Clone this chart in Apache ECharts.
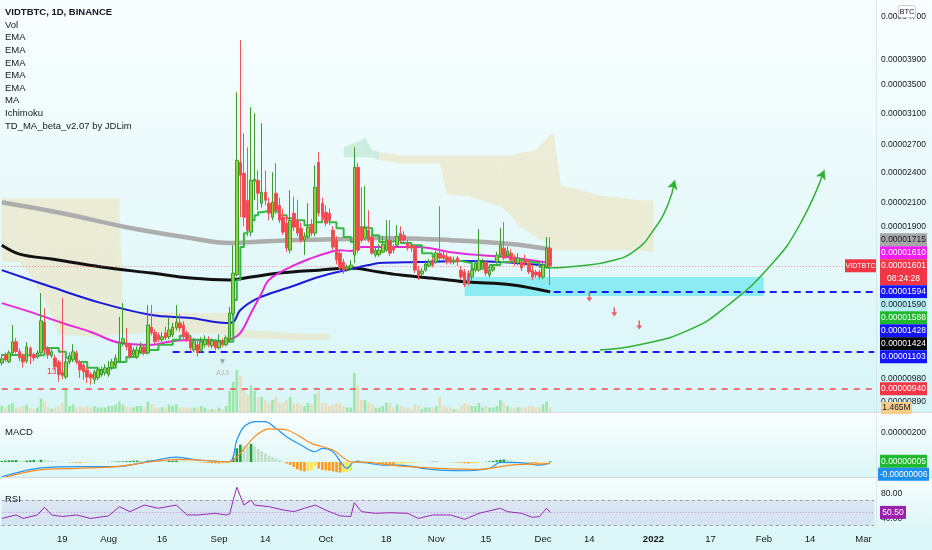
<!DOCTYPE html>
<html>
<head>
<meta charset="utf-8">
<script src="https://cdn.jsdelivr.net/npm/echarts@6.0.0/dist/echarts.min.js"></script>
<style>
html,body{margin:0;padding:0;background:#ffffff;}
#chart{width:932px;height:550px;}
</style>
</head>
<body>
<div id="chart"></div>
<script>
// ================= DATA =================
const firstDay = Date.UTC(2021, 6, 2);   // 2021-07-02, first daily bar
const dayCount = 246;                    // bars + empty future space up to 2022-03-04
const tickDates = ['2021-07-19','2021-08-01','2021-08-16','2021-09-01','2021-09-14','2021-10-01','2021-10-18','2021-11-01','2021-11-15','2021-12-01','2021-12-14','2022-01-01','2022-01-17','2022-02-01','2022-02-14','2022-03-01'];
const tickTexts = ['19','Aug','16','Sep','14','Oct','18','Nov','15','Dec','14','2022','17','Feb','14','Mar'];

// prices in satoshi (1e-8 BTC)
const openP = [1051,1088,1056,1098,1152,1105,1080,1060,1120,1090,
1079,1098,1255,1120,1084,1074,1056,1010,989,1056,
1065,1098,1056,1042,1020,1000,977,985,998,1007,
1000,1029,1042,1056,1147,1147,1137,1088,1079,1103,
1127,1098,1228,1200,1187,1162,1197,1177,1187,1223,
1250,1239,1197,1162,1112,1137,1112,1137,1162,1132,
1152,1122,1157,1137,1162,1300,1540,2506,2390,2126,
1852,2308,2318,2099,2201,2099,1976,2192,2081,1976,
1925,1713,2010,1950,1884,1789,1813,1917,1844,2506,
2099,2019,2010,1868,1789,1691,1627,1578,1585,1677,
2453,1892,1805,1868,1813,1677,1680,1698,1713,1789,
1736,1750,1844,1828,1767,1750,1728,1571,1545,1571,
1599,1641,1627,1691,1677,1663,1655,1627,1655,1571,
1558,1551,1525,1571,1571,1592,1627,1538,1571,1627,
1677,1728,1670,1691,1655,1620,1627,1641,1620,1571,
1558,1558,1525,1592,1728];
const closeP = [1070,1065,1098,1152,1105,1074,1056,1127,1084,1074,
1098,1261,1112,1088,1103,1033,1000,995,1056,1084,
1103,1056,1020,1011,989,985,1011,1020,1020,1029,
1029,1056,1074,1147,1167,1127,1079,1112,1112,1127,
1098,1239,1197,1152,1162,1177,1172,1213,1228,1255,
1223,1177,1162,1122,1152,1098,1152,1162,1137,1157,
1122,1152,1137,1172,1305,1551,2528,2369,1976,1868,
2318,2328,2192,2201,2126,2010,2108,2036,1950,1852,
1728,1950,1892,1844,1789,1820,1892,1844,2249,2010,
1976,1925,1950,1736,1641,1585,1571,1592,1606,2453,
1713,1789,1884,1789,1691,1713,1713,1757,1789,1691,
1713,1820,1789,1789,1728,1728,1571,1538,1565,1613,
1627,1606,1691,1655,1655,1627,1627,1641,1627,1525,
1473,1486,1571,1620,1641,1627,1551,1571,1592,1677,
1750,1655,1706,1641,1620,1655,1585,1620,1558,1525,
1538,1525,1606,1728,1601];
const lowP = [1040,1056,1050,1090,1095,1060,1030,1050,1045,1060,
1070,1090,1100,1070,1075,1020,969,980,980,1045,
1055,1045,985,977,964,956,960,975,990,995,
990,1020,1035,1050,1130,1110,1070,1080,1070,1095,
1085,1090,1185,1140,1150,1150,1160,1165,1175,1210,
1205,1165,1150,1105,1100,1080,1100,1125,1125,1120,
1110,1115,1125,1130,1155,1290,1530,1976,1900,1820,
1820,2126,2036,2060,2080,1950,1950,2000,1925,1830,
1700,1690,1860,1820,1770,1677,1800,1820,1820,1980,
1950,1900,1910,1710,1610,1560,1545,1560,1570,1620,
1690,1770,1790,1770,1680,1660,1665,1690,1700,1670,
1690,1740,1770,1770,1710,1700,1550,1505,1530,1560,
1590,1590,1615,1640,1640,1610,1610,1610,1600,1505,
1460,1470,1505,1555,1560,1580,1530,1525,1560,1615,
1660,1640,1655,1625,1600,1605,1565,1600,1545,1505,
1520,1510,1510,1580,1473];
const highP = [1090,1100,1110,1239,1170,1120,1095,1150,1130,1100,
1110,1423,1334,1130,1115,1090,1065,1392,1070,1100,
1140,1110,1065,1050,1030,1010,1020,1030,1035,1045,
1060,1070,1090,1283,1362,1223,1150,1125,1130,1150,
1140,1351,1351,1215,1200,1200,1230,1283,1250,1351,
1300,1260,1210,1175,1170,1160,1175,1185,1180,1170,
1165,1190,1170,1185,1340,1750,3392,4254,2842,2674,
3181,3099,2420,2967,2420,2150,2400,2496,2150,2050,
1990,2220,2160,2130,1930,1850,2100,1960,2474,2617,
2150,2080,2050,1900,1820,1710,1650,1610,1640,2674,
2500,2249,2259,2036,1840,1740,1760,1820,1950,1950,
1760,1908,1900,1860,1790,1770,1750,1600,1585,1640,
1650,1660,1710,2072,1700,1690,1670,1665,1670,1600,
1580,1570,1590,1640,1876,1650,1640,1590,1610,1700,
1884,1934,1740,1720,1680,1690,1650,1680,1640,1600,
1575,1575,1620,1813,1813];
// volume in millions
const volumeM = [2,1.5,2.5,3,1.5,1.5,2,2.5,1.5,1,
1.5,4.5,3.5,1.5,1,1.5,2,3,7.5,2,
2.5,1.5,2,1.5,2,1.5,2,1.5,1.5,1.5,
2,2,2.5,3.5,2.5,2,1.5,1.5,2,2,
1.5,3.5,2.5,1.5,1.5,1.5,1.5,2.5,2,2.5,
1.5,1.5,1.5,1.5,1.5,1.5,2,1.5,1,1,
1,1.5,1,2,7,10,14,12,8,6,
9,7,5,5,4,3,4,5,3,3,
4,5,3,3,2.5,2,3,2.5,6,7,
3,3,2,2.5,3,3,2,1.5,1.5,13,
9,4,4,3,2.5,1.5,1.5,2,3,3,
1.5,2.5,2,1.5,1.5,1,2.5,2,1,1.5,
1.5,1.5,2,5,2,1.5,1.5,1,1,2,
3,2.5,2,2,3,1.5,2,1.5,1.5,2,
4,3,2,1.5,1.5,1.5,1.5,1.5,2,2,
1.5,1.5,2.5,3.5,1.465];

// moving averages, read at sample bars: [barIndex, price]
const maGray = [[0,2108],[17,2010],[35,1892],[53,1805],[64,1767],[70,1774],[81,1789],[98,1797],[106,1805],[126,1789],[143,1760],[154,1720]];
const emaBlack = [[0,1750],[5,1684],[14,1648],[28,1592],[42,1551],[53,1518],[64,1505],[70,1525],[78,1551],[89,1571],[98,1585],[106,1558],[112,1538],[123,1512],[131,1492],[143,1475],[154,1430]];
const emaBlue = [[0,1571],[14,1460],[28,1362],[42,1294],[53,1277],[63,1250],[65,1255],[67,1322],[72,1392],[81,1460],[89,1525],[98,1578],[103,1606],[106,1620],[117,1627],[129,1634],[140,1627],[154,1600]];
const emaMagenta = [[0,1362],[8,1311],[17,1250],[25,1202],[33,1147],[42,1137],[47,1152],[53,1162],[60,1152],[64,1162],[67,1197],[70,1305],[73,1423],[75,1505],[81,1592],[87,1655],[92,1698],[95,1713],[98,1706],[101,1736],[106,1736],[117,1736],[126,1698],[134,1677],[143,1660],[154,1620]];
const tdMaGreen = [[0,1088],[5,1084],[10,1088],[12,1122],[16,1103],[18,1074],[21,1056],[24,1029],[27,1020],[30,1029],[32,1056],[35,1079],[38,1098],[41,1112],[44,1137],[48,1162],[50,1182],[53,1162],[58,1152],[63,1152],[65,1380],[66,1505],[67,1736],[68,1844],[69,1908],[70,1950],[71,1993],[72,2019],[73,2036],[76,2019],[78,1993],[80,1967],[82,1950],[85,1908],[88,1934],[90,1967],[92,1934],[94,1884],[96,1813],[98,1774],[99,1736],[100,1892],[102,1884],[104,1828],[106,1774],[109,1789],[112,1767],[115,1750],[118,1691],[121,1663],[123,1655],[126,1634],[129,1620],[132,1578],[134,1585],[137,1606],[140,1627],[143,1641],[146,1627],[149,1620],[151,1592],[154,1588]];

// Ichimoku cloud samples: bar index, upper span, lower span, bullish flag
const cloudIdx    = [0,5,8,12,16,28,33,34,42,52,64,67,84,92,   96,101,102,104,106,112,123,125,131,140,143,145,150,154,155,157,168,179,183];
const cloudTop    = [2144,2144,2144,2144,2144,2144,2144,1322,1311,1305,1305,1213,1192,1192, 2675,2757,2793,2640,2617,2584,2584,2584,2584,2584,2584,2606,2640,2820,2842,2269,2173,2126,2126];
const cloudBottom = [1627,1627,1538,1380,1187,1177,1192,1192,1197,1197,1187,1172,1162,1162, 2562,2562,2562,2562,2528,2496,2496,2183,2164,2072,1993,1908,1813,1750,1713,1713,1713,1713,1698];
const cloudBull   = [0,0,0,0,0,0,0,0,0,0,0,0,0,0, 1,1,1,1,0,0,0,0,0,0,0,0,0,0,0,0,0,0,0];
const cloudBreakAfter = [13];

// TD sequential marks: [barIndex, price, text, colour]
const tdMarks = [[14, 1011, '13', '#f23645'], [62, 1056, '\u25BC', '#9aa0a8'], [62, 1007, 'A13', '#b0b6bd']];

// drawings
const supportZone = {from: 130, to: 214, top: 1525, bottom: 1404};
const levelLines = [
  {value: 1103, from: 48, color: '#1a1aff', width: 2, dash: [7,5]},
  {value: 1428, from: 155, color: '#1a1aff', width: 2, dash: [7,5]},
  {value: 940, from: 0, color: '#ef4a50', width: 1.5, dash: [6,6]}
];
const arrowUp1 = [[153,1585],[162,1599],[171,1634],[178,1713],[183,1868],[187,2081],[189,2318]];
const arrowUp2 = [[168,1112],[179,1137],[193,1213],[204,1351],[216,1606],[224,1908],[231,2421]];
const downArrows = [[165,1398],[172,1311],[179,1239]];

// MACD (satoshi)
const macdLine = [[0,-101],[10,-43],[21,-32],[32,-32],[42,7],[49,34],[55,14],[64,2],[66,152],[68,243],[71,278],[74,278],[77,232],[80,175],[84,117],[88,71],[90,94],[93,71],[97,-43],[99,2],[102,-5],[107,-21],[112,-21],[118,-43],[123,-55],[131,-60],[137,-43],[140,-2],[146,-5],[151,-21],[154,-6]];
const macdSignal = [[0,-110],[10,-55],[21,-43],[32,-32],[42,2],[49,19],[55,14],[64,2],[67,62],[71,175],[75,228],[80,221],[87,129],[93,83],[98,2],[103,-2],[112,-28],[123,-43],[134,-50],[143,-21],[154,-11]];
const macdHist = [8,10,12,12,14,10,8,10,12,14,12,
16,14,10,8,6,4,2,0,-2,-4,
-5,-6,-5,-4,-3,-2,-2,-1,0,1,
2,3,4,5,6,8,9,10,9,8,
10,11,10,9,8,7,8,9,10,8,
6,4,2,0,-2,-4,-6,-7,-8,-9,
-10,-10,-9,-6,30,
95,120,110,105,125,110,90,75,60,45,
35,25,15,5,-10,-20,-35,-50,-60,-65,
-60,-55,-30,-45,-55,-58,-60,-65,-70,-72,
-70,-65,-60,-5,10,
8,6,4,2,0,-5,-8,-12,-15,-18,
-15,-12,-10,-8,-6,-4,-3,-2,-1,1,
2,3,2,1,0,-1,-2,-4,-6,-8,
-10,-10,-8,-6,-3,2,5,8,12,16,
18,16,12,8,4,1,-2,-4,-6,-8,
-8,-6,-2,5];

// RSI
const rsiLine = [[0,41],[4,46.5],[6,41],[10,46.5],[12,58.5],[14,46.5],[17,44],[21,46.5],[25,41],[30,45],[33,59.5],[36,51.7],[40,62],[44,57],[49,62],[52,46.5],[55,46.5],[60,49],[63,46.5],[64,48],[65,70],[66,90],[68,62],[70,70],[71,62],[75,59.5],[79,54.3],[82,51.7],[85,57],[88,62],[91,54],[95,45],[98,44],[99,65.8],[101,51.7],[105,49],[109,50],[114,49],[117,41],[121,46.5],[126,46.5],[130,39.7],[134,49],[140,57],[142,51.7],[146,49],[149,42.8],[151,44],[153,57],[154,50.5]];

// axis tick labels
const priceTicks = [890, 980, 1900, 2100, 2400, 2700, 3100, 3500, 3900, 4700];
const macdTicks = [200];
const rsiTicks = [40, 80];

// last-value badges on the price scale
const badgeValues = [1715, 1610, 1601, 1594, 1590, 1588, 1428, 1424, 1103, 940];
const badgeBg     = ['#a6a6a6','#f01ef0','#f23645','#1515ff','#b5ecf3','#1fb82e','#1515ff','#000000','#1515ff','#f23645'];
const badgeFg     = ['#131722','#ffffff','#ffffff','#ffffff','#131722','#ffffff','#ffffff','#ffffff','#ffffff','#ffffff'];
const countdownText = '08:24:28';
const lastVolumeText = '1.465M';
const legendLines = ['VIDTBTC, 1D, BINANCE','Vol','EMA','EMA','EMA','EMA','EMA','MA','Ichimoku','TD_MA_beta_v2.07 by JDLim'];

// ================= BUILD =================
const categories = [];
for (let k = 0; k < dayCount; k++) categories.push(new Date(firstDay + k * 86400000).toISOString().slice(0, 10));
const tickMap = {};
tickDates.forEach((d, k) => tickMap[d] = tickTexts[k]);

const FONT = "'Liberation Sans',Arial,sans-serif";
const AX_FS = 8.5;
const fmt8 = v => (v / 1e8).toFixed(8);

const candleData = openP.map((o, k) => [o, closeP[k], lowP[k], highP[k]]);
const volData = volumeM.map((v, k) => ({
  value: v,
  itemStyle: {color: closeP[k] >= openP[k] ? 'rgba(110,215,110,0.55)' : 'rgba(238,205,150,0.6)'}
}));
const histData = macdHist.map((v, k) => {
  const prev = k > 0 ? macdHist[k - 1] : v;
  let c;
  if (v >= 0) c = v >= prev ? '#1c9d3a' : '#bfe0c6';
  else c = v < prev ? '#ff9a1a' : '#ffe34a';
  return {value: v, itemStyle: {color: c}};
});
const cloudData = cloudIdx.map((x, k) => [x, cloudTop[k], cloudBottom[k]]);

const chart = echarts.init(document.getElementById('chart'), null, {renderer: 'canvas'});

const PLOT_W = 876;
const grids = [
  {left: 0, top: 0, width: PLOT_W, height: 412},
  {left: 0, top: 352, width: PLOT_W, height: 60},
  {left: 0, top: 413, width: PLOT_W, height: 64},
  {left: 0, top: 478, width: PLOT_W, height: 50}
];
function xAx(i, show) {
  return {
    type: 'category', gridIndex: i, data: categories, boundaryGap: true,
    axisLine: {show: false}, axisTick: {show: false},
    axisLabel: show ? {
      show: true, margin: 6, color: '#131722', fontSize: 9.5, fontFamily: FONT,
      interval: (idx, val) => tickMap[val] !== undefined,
      formatter: val => tickMap[val] === '2022' ? '{b|2022}' : (tickMap[val] || ''),
      rich: {b: {fontWeight: 'bold', fontSize: 9.5, fontFamily: FONT, color: '#131722'}}
    } : {show: false},
    splitLine: {show: false}
  };
}
const axisLabelStyle = {color: '#131722', fontSize: AX_FS, fontFamily: FONT, margin: 5};

const lineCommon = (name, data, color, width, extra) => Object.assign({
  name, type: 'line', data, xAxisIndex: 0, yAxisIndex: 0, symbol: 'none', smooth: 0.35,
  lineStyle: {color, width}, z: 3, silent: true
}, extra || {});

function levelMark(l) {
  return [{coord: [categories[l.from], l.value], lineStyle: {color: l.color, width: l.width, type: l.dash}},
          {coord: [categories[dayCount - 1], l.value]}];
}

const option = {
  animation: false,
  backgroundColor: 'transparent',
  grid: grids,
  xAxis: [xAx(0, false), xAx(1, false), xAx(2, false), xAx(3, true)],
  yAxis: [
    {type: 'log', logBase: 10, gridIndex: 0, position: 'right', min: 850, max: 5060,
     axisLine: {show: false}, axisTick: {show: false}, splitLine: {show: false},
     axisLabel: Object.assign({formatter: fmt8, customValues: priceTicks}, axisLabelStyle)},
    {type: 'value', gridIndex: 1, min: 0, max: 20, show: false},
    {type: 'value', gridIndex: 2, position: 'right', min: -103, max: 338,
     axisLine: {show: false}, axisTick: {show: false}, splitLine: {show: false},
     axisLabel: Object.assign({formatter: fmt8, customValues: macdTicks}, axisLabelStyle)},
    {type: 'value', gridIndex: 3, position: 'right', min: 26, max: 104.5,
     axisLine: {show: false}, axisTick: {show: false}, splitLine: {show: false},
     axisLabel: Object.assign({formatter: v => v.toFixed(2), customValues: rsiTicks}, axisLabelStyle)}
  ],
  series: [
    {
      name: 'Ichimoku', type: 'custom', xAxisIndex: 0, yAxisIndex: 0, data: cloudData, z: 1, silent: true,
      encode: {x: 0, y: [1, 2]}, clip: true,
      renderItem: (params, api) => {
        const k = params.dataIndex;
        if (k >= cloudIdx.length - 1 || cloudBreakAfter.indexOf(k) >= 0) return null;
        const a = api.coord([cloudIdx[k], cloudTop[k]]);
        const b = api.coord([cloudIdx[k + 1], cloudTop[k + 1]]);
        const c = api.coord([cloudIdx[k + 1], cloudBottom[k + 1]]);
        const d = api.coord([cloudIdx[k], cloudBottom[k]]);
        return {type: 'polygon', shape: {points: [a, b, c, d]},
          style: {fill: cloudBull[k] ? 'rgba(175,225,200,0.55)' : 'rgba(236,226,190,0.6)', stroke: null}};
      }
    },
    {
      name: 'Vol', type: 'bar', xAxisIndex: 1, yAxisIndex: 1, data: volData, barWidth: 2.6, z: 1, silent: true
    },
    lineCommon('MA', maGray, '#adadad', 4.5),
    lineCommon('EMA black', emaBlack, '#111111', 3),
    lineCommon('EMA blue', emaBlue, '#1a1ad8', 2),
    lineCommon('EMA magenta', emaMagenta, '#e62ad8', 2),
    lineCommon('TD_MA', tdMaGreen, '#34b844', 2, {smooth: false, step: 'end'}),
    {
      name: 'VIDTBTC', type: 'candlestick', xAxisIndex: 0, yAxisIndex: 0, data: candleData, barWidth: 3, z: 5, silent: true,
      itemStyle: {color: '#8cd63c', color0: '#f2474a', borderColor: '#3b9a30', borderColor0: '#f2545a', borderWidth: 1},
      markArea: {silent: true, itemStyle: {color: 'rgba(70,226,236,0.55)'},
        data: [[{coord: [categories[supportZone.from], supportZone.top]}, {coord: [categories[supportZone.to], supportZone.bottom]}]]},
      markLine: {silent: true, symbol: 'none', label: {show: false},
        data: levelLines.map(levelMark).concat([[
          {coord: [categories[0], closeP[closeP.length - 1]], lineStyle: {color: 'rgba(242,54,69,0.55)', width: 1, type: [1, 2]}},
          {coord: [categories[dayCount - 1], closeP[closeP.length - 1]]}]])},
      markPoint: {silent: true, symbol: 'circle', symbolSize: 1, itemStyle: {color: 'rgba(0,0,0,0)'},
        data: tdMarks.map(m => ({coord: [categories[m[0]], m[1]],
          label: {show: true, formatter: m[2], color: m[3], fontSize: m[2] === 'A13' ? 7 : 8.5, fontFamily: FONT, position: 'inside'}}))}
    },
    lineCommon('arrow1', arrowUp1.map((p, k) => k === arrowUp1.length - 1 ? {value: p, symbol: 'arrow', symbolSize: [8, 9], symbolRotate: -16, itemStyle: {color: '#2eb135'}} : p),
      '#2eb135', 1.5, {smooth: 0.5, z: 6, showAllSymbol: true, symbol: 'none'}),
    lineCommon('arrow2', arrowUp2.map((p, k) => k === arrowUp2.length - 1 ? {value: p, symbol: 'arrow', symbolSize: [8, 9], symbolRotate: -24, itemStyle: {color: '#2eb135'}} : p),
      '#2eb135', 1.5, {smooth: 0.5, z: 6, showAllSymbol: true, symbol: 'none'}),
    {
      name: 'down', type: 'scatter', xAxisIndex: 0, yAxisIndex: 0, data: downArrows, silent: true, z: 6,
      symbol: 'path://M3,0 L5,0 L5,6 L8,6 L4,11 L0,6 L3,6 Z', symbolSize: [6, 9], itemStyle: {color: '#f23645'}
    },
    {
      name: 'MACD hist', type: 'bar', xAxisIndex: 2, yAxisIndex: 2, data: histData, barWidth: 2.6, silent: true
    },
    {name: 'MACD', type: 'line', xAxisIndex: 2, yAxisIndex: 2, data: macdLine, symbol: 'none', smooth: 0.3,
     lineStyle: {color: '#2196f3', width: 1.2}, silent: true},
    {name: 'Signal', type: 'line', xAxisIndex: 2, yAxisIndex: 2, data: macdSignal, symbol: 'none', smooth: 0.3,
     lineStyle: {color: '#ff8a1c', width: 1.2}, silent: true},
    {name: 'RSI', type: 'line', xAxisIndex: 3, yAxisIndex: 3, data: rsiLine, symbol: 'none',
     lineStyle: {color: '#9c27b0', width: 1}, silent: true,
     markArea: {silent: true, itemStyle: {color: 'rgba(126,87,194,0.12)'},
       data: [[{coord: [categories[0], 70]}, {coord: [categories[dayCount - 1], 30]}]]},
     markLine: {silent: true, symbol: 'none', label: {show: false},
       data: [
         [{coord: [categories[0], 70], lineStyle: {color: '#9a9aa6', type: [3, 3], width: 1}}, {coord: [categories[dayCount - 1], 70]}],
         [{coord: [categories[0], 30], lineStyle: {color: '#9a9aa6', type: [3, 3], width: 1}}, {coord: [categories[dayCount - 1], 30]}],
         [{coord: [categories[0], 50], lineStyle: {color: 'rgba(156,39,176,0.45)', type: [1, 2], width: 1}}, {coord: [categories[dayCount - 1], 50]}]
       ]}}
  ]
};
chart.setOption(option);

// ================= DECORATIONS =================
function grad(c1, c2) {
  return {type: 'linear', x: 0, y: 0, x2: 0, y2: 1, colorStops: [{offset: 0, color: c1}, {offset: 1, color: c2}]};
}
const txt = (fs, bold) => (bold ? 'bold ' : '') + fs + 'px ' + FONT;
const g = [];
g.push({type: 'rect', z: -100, silent: true, shape: {x: 0, y: 0, width: 932, height: 413}, style: {fill: grad('#f9fefe', '#d8f5f7')}});
g.push({type: 'rect', z: -100, silent: true, shape: {x: 0, y: 413, width: 932, height: 65}, style: {fill: grad('#fafefe', '#dbf6f7')}});
g.push({type: 'rect', z: -100, silent: true, shape: {x: 0, y: 478, width: 932, height: 50}, style: {fill: grad('#f6fdfd', '#dff7f8')}});
g.push({type: 'rect', z: -100, silent: true, shape: {x: 0, y: 528, width: 932, height: 22}, style: {fill: '#ddf7f8'}});
g.push({type: 'line', z: 50, silent: true, shape: {x1: 0, y1: 412.5, x2: 932, y2: 412.5}, style: {stroke: '#d3dde0', lineWidth: 1}});
g.push({type: 'line', z: 50, silent: true, shape: {x1: 0, y1: 477.5, x2: 932, y2: 477.5}, style: {stroke: '#d3dde0', lineWidth: 1}});
g.push({type: 'line', z: 50, silent: true, shape: {x1: 876.5, y1: 0, x2: 876.5, y2: 528}, style: {stroke: '#dfe6e8', lineWidth: 1}});

legendLines.forEach((t, k) => {
  g.push({type: 'text', z: 60, silent: true, x: 5, y: 12.5 + k * 12.6,
    style: {text: t, fill: '#131722', font: txt(9.5, k === 0), textVerticalAlign: 'middle'}});
});
g.push({type: 'text', z: 60, silent: true, x: 5, y: 432, style: {text: 'MACD', fill: '#131722', font: txt(9.5), textVerticalAlign: 'middle'}});
g.push({type: 'text', z: 60, silent: true, x: 5, y: 499, style: {text: 'RSI', fill: '#131722', font: txt(9.5), textVerticalAlign: 'middle'}});

// BTC currency badge
g.push({type: 'rect', z: 60, silent: true, shape: {x: 898.5, y: 5.5, width: 17, height: 12, r: 2}, style: {fill: '#ffffff', stroke: '#c9cdd3', lineWidth: 1}});
g.push({type: 'text', z: 61, silent: true, x: 907, y: 11.5, style: {text: 'BTC', fill: '#131722', font: txt(7.5), textAlign: 'center', textVerticalAlign: 'middle'}});

// price-scale badges: current-price badge stays at its price, the others are stacked around it
const BX = 880, BW = 47, BH = 13;
const yOf = v => chart.convertToPixel({yAxisIndex: 0}, v);
const anchorIdx = badgeValues.indexOf(closeP[closeP.length - 1]);
const centers = new Array(badgeValues.length);
const anchorY = yOf(badgeValues[anchorIdx]);
centers[anchorIdx] = anchorY;
let topEdge = anchorY - BH / 2;
for (let k = anchorIdx - 1; k >= 0; k--) {
  const c = Math.min(yOf(badgeValues[k]), topEdge - BH / 2);
  centers[k] = c; topEdge = c - BH / 2;
}
let botEdge = anchorY - BH / 2 + 2 * BH;
for (let k = anchorIdx + 1; k < badgeValues.length; k++) {
  const c = Math.max(yOf(badgeValues[k]), botEdge + BH / 2);
  centers[k] = c; botEdge = c + BH / 2;
}
badgeValues.forEach((v, k) => {
  const h = k === anchorIdx ? 2 * BH : BH;
  g.push({type: 'rect', z: 70, silent: true, shape: {x: BX, y: centers[k] - BH / 2, width: BW, height: h}, style: {fill: badgeBg[k]}});
  g.push({type: 'text', z: 71, silent: true, x: BX + BW / 2, y: centers[k], style: {text: fmt8(v), fill: badgeFg[k], font: txt(AX_FS), textAlign: 'center', textVerticalAlign: 'middle'}});
  if (k === anchorIdx) {
    g.push({type: 'text', z: 71, silent: true, x: BX + BW / 2, y: centers[k] + BH, style: {text: countdownText, fill: '#ffffff', font: txt(AX_FS), textAlign: 'center', textVerticalAlign: 'middle'}});
    g.push({type: 'rect', z: 70, silent: true, shape: {x: 845, y: centers[k] - BH / 2, width: 31, height: BH}, style: {fill: '#f23645'}});
    g.push({type: 'text', z: 71, silent: true, x: 860.5, y: centers[k], style: {text: 'VIDTBTC', fill: '#ffffff', font: txt(7), textAlign: 'center', textVerticalAlign: 'middle'}});
  }
});
// volume badge
g.push({type: 'rect', z: 70, silent: true, shape: {x: 881, y: 402, width: 31, height: 12}, style: {fill: '#f8ce8a'}});
g.push({type: 'text', z: 71, silent: true, x: 896.5, y: 408, style: {text: lastVolumeText, fill: '#131722', font: txt(AX_FS), textAlign: 'center', textVerticalAlign: 'middle'}});
// MACD badges
const yMacd = v => chart.convertToPixel({yAxisIndex: 2}, v);
const histLast = macdHist[macdHist.length - 1];
const macdLast = macdLine[macdLine.length - 1][1];
const hc = yMacd(histLast);
const mc = Math.max(yMacd(macdLast), hc + BH);
g.push({type: 'rect', z: 70, silent: true, shape: {x: BX, y: hc - BH / 2, width: BW, height: BH}, style: {fill: '#1fb82e'}});
g.push({type: 'text', z: 71, silent: true, x: BX + BW / 2, y: hc, style: {text: fmt8(histLast), fill: '#ffffff', font: txt(AX_FS), textAlign: 'center', textVerticalAlign: 'middle'}});
g.push({type: 'rect', z: 70, silent: true, shape: {x: BX - 2, y: mc - BH / 2, width: BW + 4, height: BH}, style: {fill: '#1e90f0'}});
g.push({type: 'text', z: 71, silent: true, x: BX + BW / 2, y: mc, style: {text: '-' + fmt8(-macdLast), fill: '#ffffff', font: txt(AX_FS), textAlign: 'center', textVerticalAlign: 'middle'}});
// RSI badge
const rsiLast = rsiLine[rsiLine.length - 1][1];
const rc = chart.convertToPixel({yAxisIndex: 3}, rsiLast);
g.push({type: 'rect', z: 70, silent: true, shape: {x: BX, y: rc - BH / 2, width: 26, height: BH}, style: {fill: '#9c1fae'}});
g.push({type: 'text', z: 71, silent: true, x: BX + 13, y: rc, style: {text: rsiLast.toFixed(2), fill: '#ffffff', font: txt(AX_FS), textAlign: 'center', textVerticalAlign: 'middle'}});

chart.setOption({graphic: g});
</script>
</body>
</html>
